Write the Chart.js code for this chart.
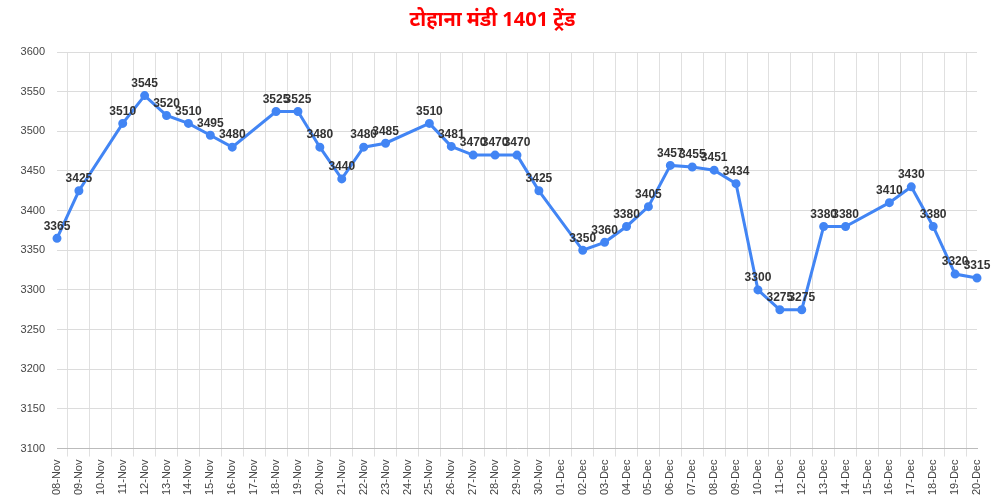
<!DOCTYPE html>
<html><head><meta charset="utf-8">
<script src="https://cdn.jsdelivr.net/npm/chart.js@4"></script>
<style>html,body{margin:0;padding:0;background:#fff}#w{width:997px;height:500px}</style>
</head><body><div id="w"><canvas id="c"></canvas></div>
<script>
const categories = ["08-Nov","09-Nov","10-Nov","11-Nov","12-Nov","13-Nov","14-Nov","15-Nov","16-Nov","17-Nov","18-Nov","19-Nov","20-Nov","21-Nov","22-Nov","23-Nov","24-Nov","25-Nov","26-Nov","27-Nov","28-Nov","29-Nov","30-Nov","01-Dec","02-Dec","03-Dec","04-Dec","05-Dec","06-Dec","07-Dec","08-Dec","09-Dec","10-Dec","11-Dec","12-Dec","13-Dec","14-Dec","15-Dec","16-Dec","17-Dec","18-Dec","19-Dec","20-Dec"];
const prices = [3365,3425,null,3510,3545,3520,3510,3495,3480,null,3525,3525,3480,3440,3480,3485,null,3510,3481,3470,3470,3470,3425,null,3350,3360,3380,3405,3457,3455,3451,3434,3300,3275,3275,3380,3380,null,3410,3430,3380,3320,3315];
const titleText = "टोहाना मंडी 1401 ट्रेंड";
const labelPlugin = {id:'lbl',afterDatasetsDraw(ch){const ctx=ch.ctx;const m=ch.getDatasetMeta(0);ctx.save();ctx.font='bold 12px "Liberation Sans", Arial';ctx.fillStyle='#333';ctx.textAlign='center';ctx.textBaseline='bottom';m.data.forEach((p,i)=>{const v=prices[i];if(v==null)return;ctx.fillText(String(v),p.x,p.y-6);});ctx.restore();}};
new Chart(document.getElementById('c'),{type:'line',data:{labels:categories,datasets:[{data:prices,borderColor:'#4285f4',backgroundColor:'#4285f4',borderWidth:3,pointRadius:3,pointBackgroundColor:'#4285f4',spanGaps:true,tension:0}]},
options:{responsive:true,maintainAspectRatio:false,animation:false,layout:{padding:{left:8,right:20,top:4,bottom:2}},
plugins:{legend:{display:false},tooltip:{enabled:false},title:{display:true,text:titleText,color:'#ff0000',font:{size:20,weight:'bold',family:'"Noto Sans","Noto Sans CJK SC",sans-serif'},padding:{top:4,bottom:20}}},
scales:{x:{offset:false,grid:{display:true,offset:true,color:'#e0e0e0',drawTicks:true},border:{color:'#bbb'},ticks:{color:'#444',font:{size:11,family:'"Liberation Sans", Arial'},maxRotation:90,minRotation:90,autoSkip:false}},
y:{min:3100,max:3600,afterFit(s){s.width=49;},ticks:{stepSize:50,color:'#444',padding:12,font:{size:11,family:'"Liberation Sans", Arial'},callback:v=>String(v)},grid:{color:'#dcdcdc',drawTicks:false},border:{display:false}}}},
plugins:[labelPlugin]});
</script></body></html>
